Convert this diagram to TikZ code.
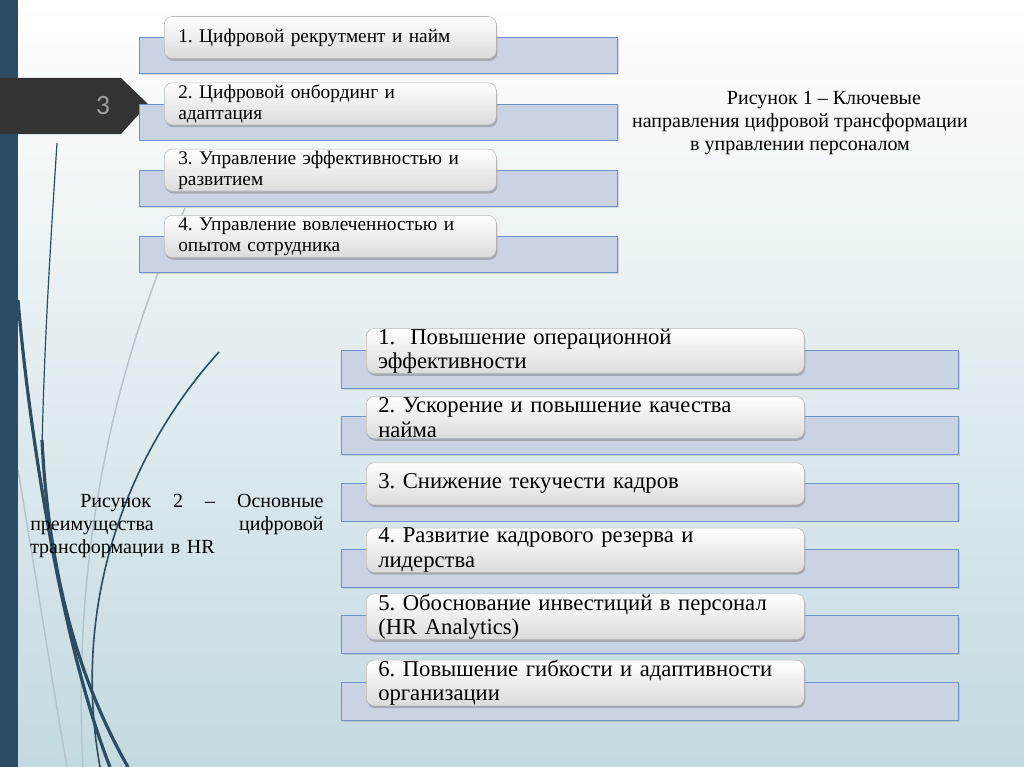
\documentclass[tikz,border=0pt]{standalone}
\usepackage{fontspec}
\setmainfont{Liberation Serif}
\newfontfamily\slidenum{Carlito}
\definecolor{barblue}{HTML}{2C4D61}
\definecolor{bgblue}{HTML}{C3DAE1}
\definecolor{bandfill}{HTML}{CAD3E4}
\definecolor{bandline}{HTML}{7092C6}
\definecolor{tabgray}{HTML}{333333}
\definecolor{curvegray}{HTML}{B5C3CB}
\usetikzlibrary{shadows}
\frenchspacing

\begin{document}
\begin{tikzpicture}[x=0.75pt, y=-0.75pt,
  band/.style={draw=bandline, fill=bandfill, anchor=west, inner sep=0pt,
               drop shadow={shadow xshift=1pt, shadow yshift=-1.2pt, opacity=0.25}},
  card/.style={draw=gray!55, rounded corners=6pt, top color=white, bottom color=gray!28,
               anchor=west, minimum height=31.5pt, align=left, inner ysep=0pt,
               drop shadow={shadow xshift=0.8pt, shadow yshift=-1.8pt, opacity=0.5}},
  topcard/.style={card, text width=228pt, inner xsep=10.5pt,
                  font=\fontsize{14.5}{15.8}\selectfont},
  lowcard/.style={card, text width=310.5pt, inner xsep=9pt,
                  font=\fontsize{17}{18.4}\selectfont},
  caption/.style={font=\fontsize{15}{17.3}\selectfont, inner sep=0pt},
  swoosh/.style={draw=barblue, line width=#1},
  faint/.style={draw=curvegray, line width=1.1pt},
]
\useasboundingbox (0,0) rectangle (1024,767);
\shade[top color=white, bottom color=bgblue] (0,0) rectangle (1024,767);

\draw[faint] (185,208) .. controls (130,330) and (70,520) .. (83,767);
\draw[faint] (18,470) .. controls (40,600) and (55,700) .. (67,767);
\draw[swoosh=0.9pt] (57,143) .. controls (50,250) and (44,350) .. (42,450);
\draw[swoosh=2.4pt] (42,440) .. controls (50,600) and (90,700) .. (128,767);
\draw[swoosh=2.4pt] (18,300) .. controls (28,420) and (60,640) .. (110,767);
\draw[swoosh=1.2pt] (219,352) .. controls (130,450) and (70,600) .. (100,767);

\fill[barblue] (0,0) rectangle (18,767);
\fill[tabgray] (0,78) -- (121,78) -- (148,104) -- (121,134) -- (0,134) -- cycle;
\node[text=gray!75, font=\slidenum\fontsize{21}{21}\selectfont] (num) at (103,106) {3};

\foreach \txt [count=\i] in {{1. Цифровой рекрутмент и найм},
    {2. Цифровой онбординг и\\адаптация},
    {3. Управление эффективностью и\\развитием},
    {4. Управление вовлеченностью и\\опытом сотрудника}} {
  \pgfmathsetmacro{\yb}{55.5+66.3*(\i-1)}
  \node[band, minimum width=358.5pt, minimum height=27pt] (tb\i) at (139,\yb) {};
  \node[topcard] (tc\i) at (164,\yb-18) {\txt};
}

\foreach \txt [count=\i] in {{1.~ Повышение операционной\\эффективности},
    {2. Ускорение и повышение качества\\найма},
    {3. Снижение текучести кадров},
    {4. Развитие кадрового резерва и\\лидерства},
    {5. Обоснование инвестиций в персонал\\(HR Analytics)},
    {6. Повышение гибкости и адаптивности\\организации}} {
  \pgfmathsetmacro{\yb}{369+66.4*(\i-1)}
  \node[band, minimum width=462.75pt, minimum height=28.5pt] (lb\i) at (341,\yb) {};
  \node[lowcard] (lc\i) at (366,\yb-18) {\txt};
}

\node[caption, align=center] (cap1) at (800,123)
  {\hspace*{36pt}Рисунок 1 – Ключевые\\направления цифровой трансформации\\в управлении персоналом};
\node[caption, text width=220pt, align=left, anchor=west] (cap2) at (30,526)
  {\hspace*{37.5pt}Рисунок\hfill 2\hfill –\hfill Основные\\преимущества\hfill цифровой\\трансформации в HR};
\end{tikzpicture}
\end{document}
